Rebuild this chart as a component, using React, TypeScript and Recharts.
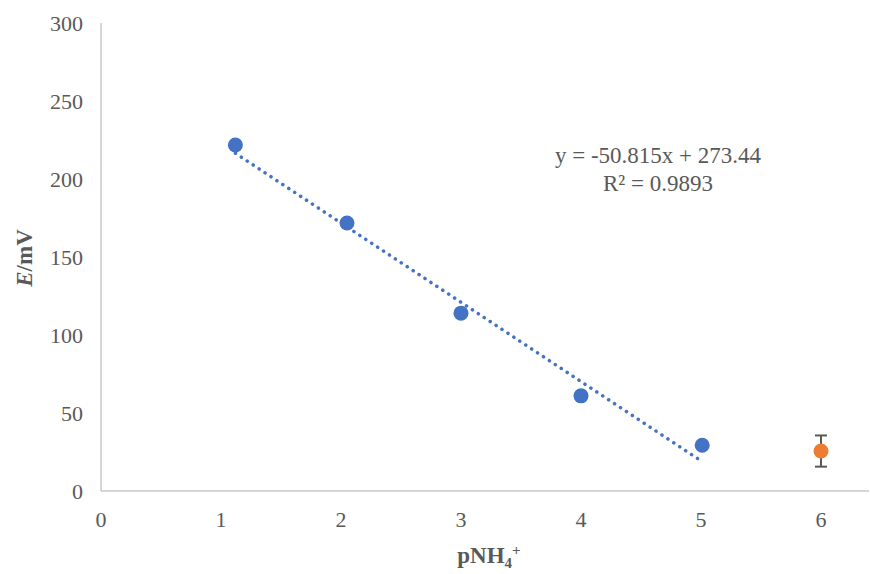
import { ScatterChart, Scatter, XAxis, YAxis, ErrorBar } from "recharts";

// calibration points
const pNH4 = [1.12, 2.05, 3.0, 4.0, 5.01];
const potential = [221.8, 171.8, 114, 61, 29.3];

// extra point with error bar
const blankX = [6.0];
const blankY = [25.6];
const blankErr = [10];

const xTicks = [0, 1, 2, 3, 4, 5, 6];
const yTicks = [0, 50, 100, 150, 200, 250, 300];

// linear fit shown on the chart
const slope = -50.815;
const intercept = 273.44;

const FONT = "'Liberation Serif', 'Times New Roman', serif";
const GREY = "#595959";

const calData = pNH4.map((x, i) => ({ x, y: potential[i] }));
const blankData = blankX.map((x, i) => ({ x, y: blankY[i], err: blankErr[i] }));
const trendX = [Math.min(...pNH4), Math.max(...pNH4)];
const trendData = trendX.map((x) => ({ x, y: slope * x + intercept }));

function XTitle({ viewBox }: any) {
  const cx = viewBox.x + viewBox.width / 2 + 4;
  return (
    <text x={cx} y={563} textAnchor="middle" fontFamily={FONT} fontWeight="bold" fontSize={23} fill={GREY}>
      pNH
      <tspan fontSize={15} dy={5}>4</tspan>
      <tspan fontSize={15} dy={-13}>+</tspan>
    </text>
  );
}

function YTitle() {
  return (
    <text
      x={0}
      y={0}
      transform="translate(32 258) rotate(-90)"
      textAnchor="middle"
      fontFamily={FONT}
      fontWeight="bold"
      fontSize={23}
      fill={GREY}
    >
      <tspan fontStyle="italic">E</tspan>/mV
    </text>
  );
}

export default function App() {
  return (
    <div style={{ position: "absolute", left: 0, top: 0, width: 870, height: 574, background: "#fff" }}>
      <ScatterChart width={870} height={574} margin={{ top: 23, right: 1, bottom: 0, left: 0 }}>
        <XAxis
          type="number"
          dataKey="x"
          domain={[0, 6.4]}
          ticks={xTicks}
          allowDataOverflow
          height={83}
          axisLine={{ stroke: "#c9c9c9", strokeWidth: 1.5 }}
          tickLine={false}
          tickSize={0}
          tickMargin={20}
          tick={{ fill: GREY, fontSize: 22, fontFamily: FONT }}
          label={{ content: XTitle }}
        />
        <YAxis
          type="number"
          dataKey="y"
          domain={[0, 300]}
          ticks={yTicks}
          width={101}
          axisLine={{ stroke: "#c9c9c9", strokeWidth: 1.5 }}
          tickLine={false}
          tickSize={0}
          tickMargin={18}
          tick={{ fill: GREY, fontSize: 22, fontFamily: FONT }}
          label={{ content: YTitle }}
        />
        <Scatter data={calData} fill="#4472C4" isAnimationActive={false} shape={(p: any) => <circle cx={p.cx} cy={p.cy} r={7.5} fill="#4472C4" />} />
        <Scatter data={blankData} fill="#ED7D31" isAnimationActive={false} shape={(p: any) => <circle cx={p.cx} cy={p.cy} r={7.5} fill="#ED7D31" />}>
          <ErrorBar dataKey="err" direction="y" width={6} strokeWidth={2} stroke={GREY} />
        </Scatter>
        <Scatter
          data={trendData}
          isAnimationActive={false}
          shape={() => null}
          line={{ stroke: "#4472C4", strokeWidth: 3.5, strokeDasharray: "0.1 7", strokeLinecap: "round" }}
        />
      </ScatterChart>
      <div
        style={{
          position: "absolute",
          left: 540,
          top: 142,
          width: 236,
          textAlign: "center",
          fontFamily: FONT,
          fontSize: 23,
          lineHeight: "28px",
          color: GREY,
        }}
      >
        y = -50.815x + 273.44
        <br />
        R² = 0.9893
      </div>
    </div>
  );
}
